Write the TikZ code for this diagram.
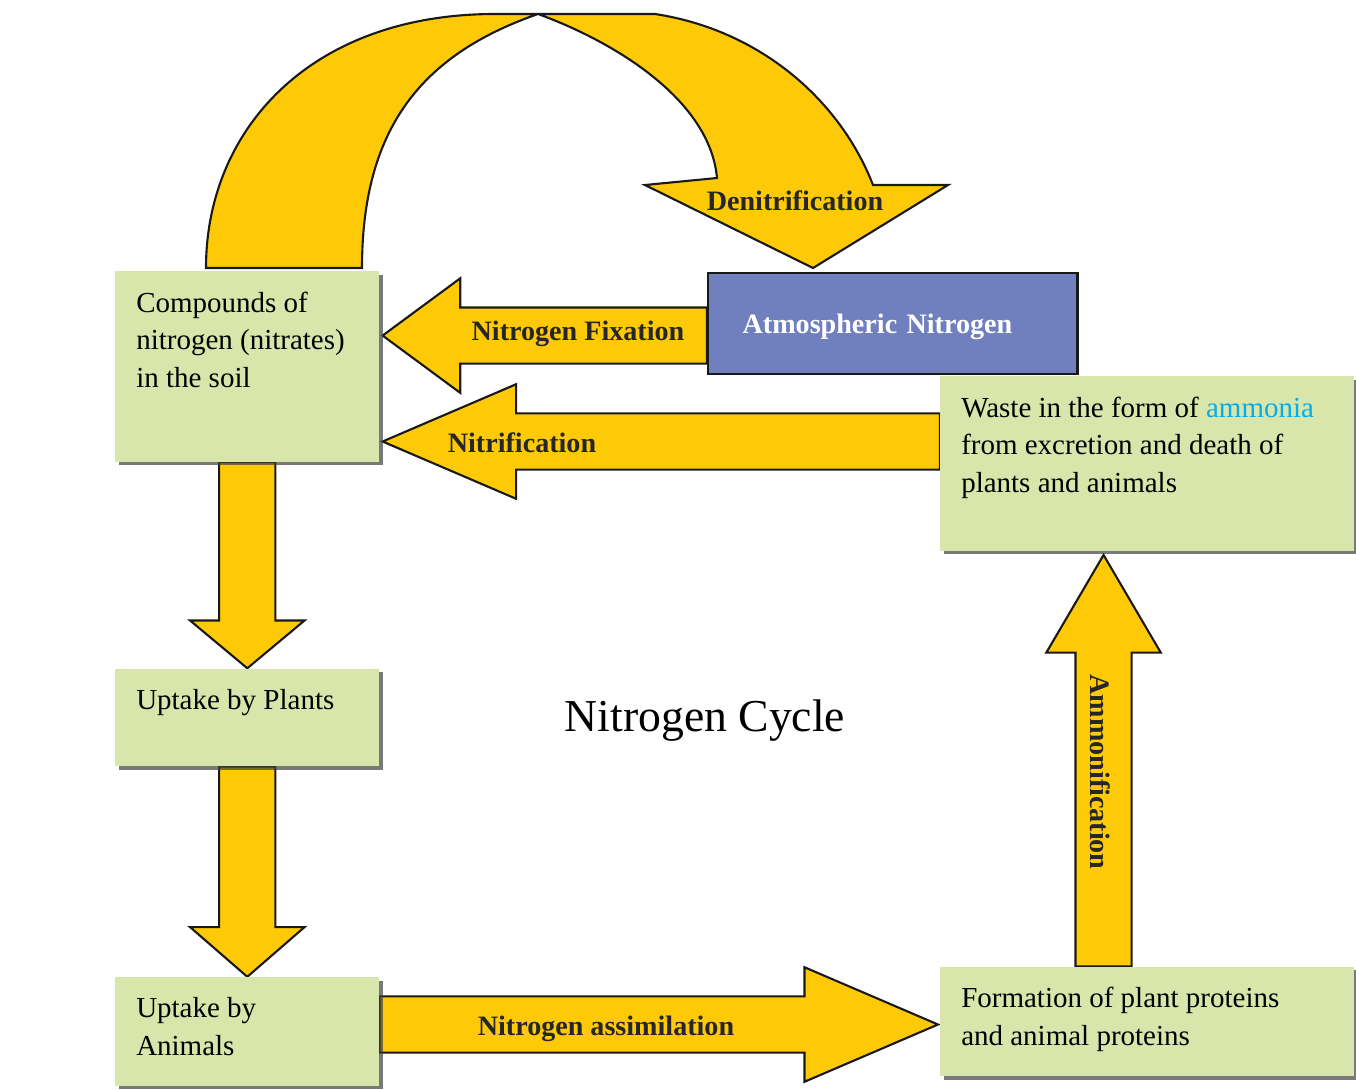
\documentclass[tikz,border=0pt]{standalone}
\usepackage{fontspec}
\setmainfont{Liberation Serif}
\usetikzlibrary{positioning,calc,shadows}

\definecolor{arrowgold}{RGB}{254,202,8}
\definecolor{boxgreen}{RGB}{216,229,171}
\definecolor{atmblue}{RGB}{112,128,190}
\definecolor{ammoniacyan}{RGB}{0,174,239}

\pgfdeclarelayer{back}
\pgfsetlayers{back,main}

% block arrow: tail, tip, head length
\newcommand{\blockarrow}[3]{%
  \path ($(#2)!#3!(#1)$) coordinate (ba-head);
  \draw[fat] ($(#1)!16pt!90:(#2)$) -- ($(ba-head)!16pt!90:(#2)$)
    -- ($(ba-head)!32.6pt!90:(#2)$) -- (#2)
    -- ($(ba-head)!32.6pt!-90:(#2)$) -- ($(ba-head)!16pt!-90:(#2)$)
    -- ($(#1)!16pt!-90:(#2)$) -- cycle;}

\begin{document}
\begin{tikzpicture}[x=0.02cm,y=-0.02cm,font=\fontsize{16.5}{21.3}\selectfont]
   \tikzset{box/.style={fill=boxgreen, anchor=north west, inner xsep=11.9pt, inner ysep=11.7pt,
       drop shadow={shadow xshift=2pt, shadow yshift=-2pt, fill=black!75, opacity=.7}}, }
   \tikzset{atm/.style={fill=atmblue, draw=black!90, line width=1.4pt, anchor=north west,
       minimum height=57.3pt, text width=171pt, inner xsep=19.6pt, align=left, text=white,
       text depth=0pt, font=\fontsize{16}{18}\selectfont\bfseries}, }
   \tikzset{fat/.style={draw=black!90, fill=arrowgold, line width=1.2pt, line join=miter}, }
   \tikzset{lbl/.style={font=\fontsize{16}{18}\selectfont\bfseries, text=black!85, text depth=0pt}, }
   \useasboundingbox (0,0) rectangle (1356,1089);

   \node[box] (soil) at (115,271)
     {\parbox[c][84.9pt][t]{126.4pt}{Compounds of\\nitrogen (nitrates)\\in the soil}};
   \node[box, below=117.4pt of soil] (plants)
     {\parbox[c][32.2pt][t]{126.4pt}{Uptake by Plants}};
   \node[box, below=119.6pt of plants] (animals)
     {\parbox[c][38.4pt][t]{126.4pt}{Uptake by\\Animals}};
   \node[atm] (atm) at (707,272) {Atmospheric Nitrogen};
   \node[box] (waste) at (940,376)
     {\parbox[c][75.8pt][t]{211.5pt}{Waste in the form of \textcolor{ammoniacyan}{ammonia}\\from excretion and death of\\plants and animals}};
   \node[box, below=236.4pt of waste] (formation)
     {\parbox[c][39pt][t]{211.5pt}{Formation of plant proteins\\and animal proteins}};

   \node[font=\fontsize{26}{30}\selectfont, text depth=0pt] (title) at (705,716) {Nitrogen Cycle};

   % the block arrows go behind the boxes
   \coordinate (fixtail) at ($(atm.west)+(0,12)$);
   \coordinate (fixtip) at ($(soil.east |- fixtail)+(3,0)$);
   \coordinate (nittail) at ($(waste.west)+(0,-22)$);
   \coordinate (nittip) at ($(soil.east |- nittail)+(3,0)$);
   \coordinate (asstip) at ($(formation.west)+(-2,3)$);
   \coordinate (asstail) at (animals.east |- asstip);
   \coordinate (ammtail) at ($(formation.north)+(-43.5,0)$);
   \coordinate (ammtip) at ($(ammtail |- waste.south)+(0,4)$);
   \begin{pgfonlayer}{back}
   \blockarrow{fixtail}{fixtip}{44.2pt}
   \blockarrow{nittail}{nittip}{76pt}
   \blockarrow{soil.south}{plants.north}{27.2pt}
   \blockarrow{plants.south}{animals.north}{28.3pt}
   \blockarrow{asstail}{asstip}{76pt}
   \blockarrow{ammtail}{ammtip}{55.6pt}
   % denitrification, from the soil over to the air
   \draw[fat] (206,268) .. controls (206,130) and (310,14) .. (495,14) -- (655,14)
     .. controls (760,30) and (840,100) .. (873,185) -- (948,185) -- (813,268)
     -- (645,185) -- (717,178) .. controls (710,100) and (615,42) .. (538,14)
     .. controls (420,55) and (362,130) .. (362,268) -- cycle;
   \end{pgfonlayer}

   \node[lbl] (fixlbl) at (578,331) {Nitrogen Fixation};
   \node[lbl] (nitlbl) at (522,443) {Nitrification};
   \node[lbl] (denlbl) at (795,201) {Denitrification};
   \node[lbl] (asslbl) at (606,1026) {Nitrogen assimilation};
   \node[lbl, rotate=-90] (ammlbl) at (1100,772) {Ammonification};
\end{tikzpicture}
\end{document}
